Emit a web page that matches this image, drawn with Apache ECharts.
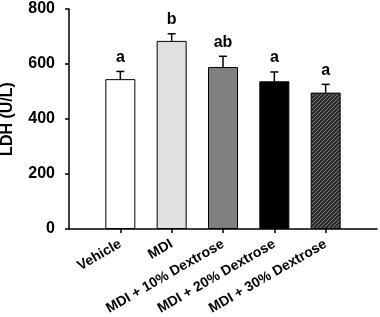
<!DOCTYPE html>
<html>
<head>
<meta charset="utf-8">
<script src="https://cdn.jsdelivr.net/npm/echarts@6/dist/echarts.min.js"></script>
<style>
html, body { margin: 0; padding: 0; background: #fff; }
#main { width: 380px; height: 317px; }
</style>
</head>
<body>
<div id="main"></div>
<script>
// groups, means, SEM (upper only) and significance letters
var groups = ['Vehicle', 'MDI', 'MDI + 10% Dextrose', 'MDI + 20% Dextrose', 'MDI + 30% Dextrose'];
var ldh = [545, 684, 589, 537, 496];
var sem = [28, 26, 39, 34, 30];
var letters = ['a', 'b', 'ab', 'a', 'a'];
var yTicks = [0, 200, 400, 600, 800];

var font = 'Arial, "Liberation Sans", sans-serif';

// hatched fill for last bar
function hatch() {
	var c = document.createElement('canvas');
	c.width = 4; c.height = 4;
	var ctx = c.getContext('2d');
	ctx.fillStyle = '#2e2e2e';
	ctx.fillRect(0, 0, 4, 4);
	ctx.strokeStyle = '#7a7a7a';
	ctx.lineWidth = 1;
	ctx.beginPath();
	ctx.moveTo(0, 4); ctx.lineTo(4, 0);
	ctx.moveTo(-1, 1); ctx.lineTo(1, -1);
	ctx.moveTo(3, 5); ctx.lineTo(5, 3);
	ctx.stroke();
	return { image: c, repeat: 'repeat' };
}
var fills = ['#ffffff', '#e0e0e0', '#808080', '#000000', hatch()];

// empty slot on each side so bars sit on ticks
var cats = [''].concat(groups).concat(['']);
var barData = ['-'];
for (var i = 0; i < groups.length; i++) {
	barData.push({ value: ldh[i], itemStyle: { color: fills[i] } });
}
barData.push('-');

var errData = [];
for (var j = 0; j < groups.length; j++) {
	errData.push([j + 1, ldh[j], ldh[j] + sem[j], j]);
}

var myChart = echarts.init(document.getElementById('main'));
var option = {
	animation: false,
	grid: { left: 69, right: 3, top: 9, bottom: 88, containLabel: false, outerBoundsMode: 'none' },
	xAxis: {
		type: 'category',
		data: cats,
		boundaryGap: false,
		axisLine: { lineStyle: { color: '#000', width: 1.5 } },
		axisTick: {
			length: 4,
			lineStyle: { color: '#000', width: 1.5 },
			interval: function (idx) { return idx > 0 && idx < cats.length - 1; }
		},
		axisLabel: {
			rotate: 30,
			margin: 14,
			interval: 0,
			color: '#000',
			fontSize: 14,
			fontWeight: 'bold',
			fontFamily: font
		}
	},
	yAxis: {
		type: 'value',
		min: 0,
		max: 800,
		interval: 200,
		name: 'LDH (U/L)',
		nameLocation: 'middle',
		nameGap: 53,
		nameTextStyle: { color: '#000', fontSize: 16, fontWeight: 'bold', fontFamily: font },
		splitLine: { show: false },
		axisLine: { show: true, lineStyle: { color: '#000', width: 1.5 } },
		axisTick: { show: true, length: 4, lineStyle: { color: '#000', width: 1.5 } },
		axisLabel: {
			margin: 14,
			color: '#000',
			fontSize: 16,
			fontWeight: 'bold',
			fontFamily: font,
			formatter: function (v) { return yTicks.indexOf(v) >= 0 ? v : ''; }
		}
	},
	series: [
		{
			type: 'bar',
			data: barData,
			barWidth: 30,
			itemStyle: { borderColor: '#000', borderWidth: 1 }
		},
		{
			type: 'custom',
			data: errData,
			z: 5,
			renderItem: function (params, api) {
				var base = api.coord([api.value(0), api.value(1)]);
				var top = api.coord([api.value(0), api.value(2)]);
				var k = api.value(3);
				return {
					type: 'group',
					children: [
						{ type: 'line', shape: { x1: base[0], y1: base[1], x2: top[0], y2: top[1] },
							style: { stroke: '#000', lineWidth: 1.5 } },
						{ type: 'line', shape: { x1: top[0] - 4, y1: top[1], x2: top[0] + 4, y2: top[1] },
							style: { stroke: '#000', lineWidth: 1.5 } },
						{ type: 'text', x: top[0], y: top[1] - 6,
							style: { text: letters[k], fill: '#000', align: 'center', verticalAlign: 'bottom',
								font: 'bold 16px ' + font } }
					]
				};
			}
		}
	]
};
myChart.setOption(option);
</script>
</body>
</html>
